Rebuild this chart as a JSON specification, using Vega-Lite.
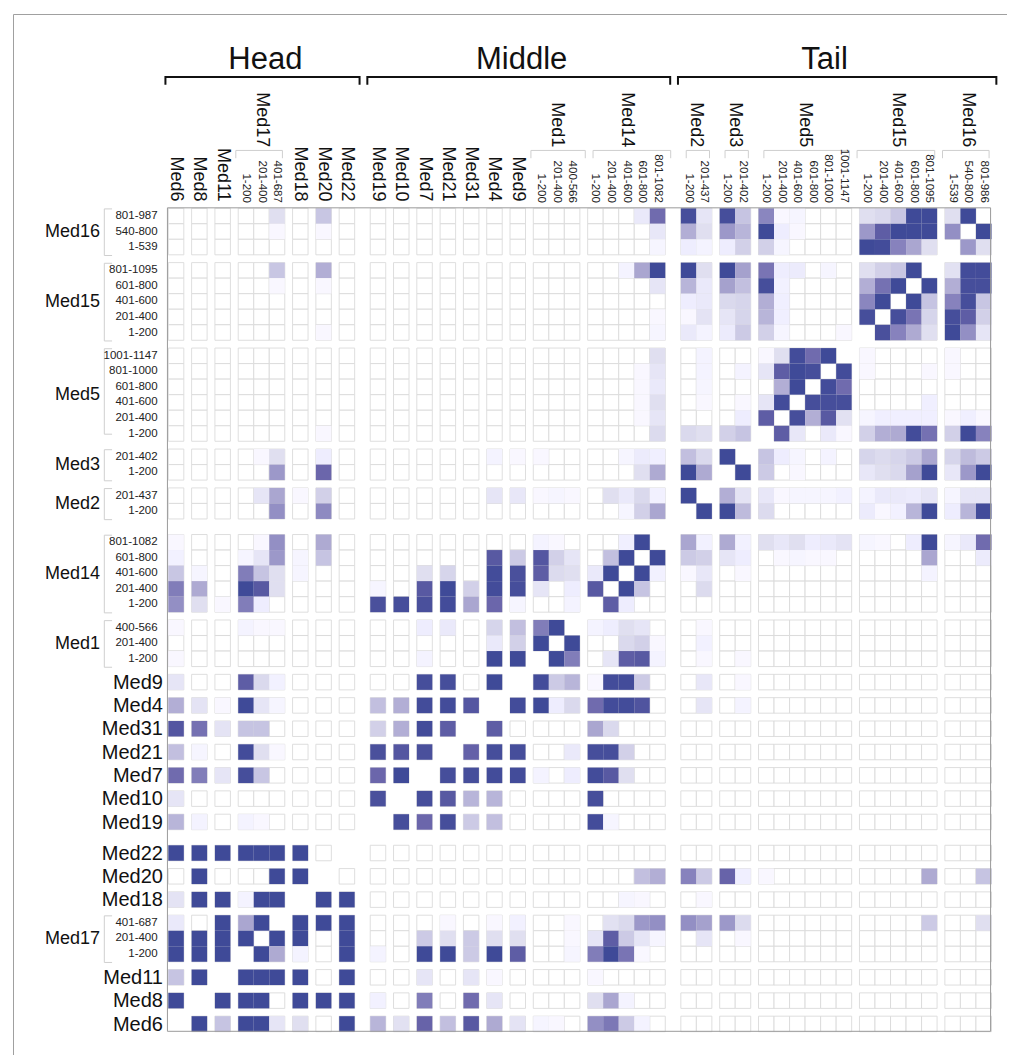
{"$schema":"https://vega.github.io/schema/vega-lite/v6.json","autosize":{"type":"none"},"padding":{"left":13,"top":14,"right":0,"bottom":0},"width":994,"height":1041,"background":"#ffffff","config":{"view":{"stroke":null},"font":"Liberation Sans"},
"datasets":{
"rowList":[{"k":1,"row":"Med16:801"},{"k":1,"row":"Med16:540"},{"k":1,"row":"Med16:1"},{"k":1,"row":"Med15:801"},{"k":1,"row":"Med15:601"},{"k":1,"row":"Med15:401"},{"k":1,"row":"Med15:201"},{"k":1,"row":"Med15:1"},{"k":1,"row":"Med5:1001"},{"k":1,"row":"Med5:801"},{"k":1,"row":"Med5:601"},{"k":1,"row":"Med5:401"},{"k":1,"row":"Med5:201"},{"k":1,"row":"Med5:1"},{"k":1,"row":"Med3:201"},{"k":1,"row":"Med3:1"},{"k":1,"row":"Med2:201"},{"k":1,"row":"Med2:1"},{"k":1,"row":"Med14:801"},{"k":1,"row":"Med14:601"},{"k":1,"row":"Med14:401"},{"k":1,"row":"Med14:201"},{"k":1,"row":"Med14:1"},{"k":1,"row":"Med1:400"},{"k":1,"row":"Med1:201"},{"k":1,"row":"Med1:1"},{"k":1,"row":"Med9"},{"k":1,"row":"Med4"},{"k":1,"row":"Med31"},{"k":1,"row":"Med21"},{"k":1,"row":"Med7"},{"k":1,"row":"Med10"},{"k":1,"row":"Med19"},{"k":1,"row":"Med22"},{"k":1,"row":"Med20"},{"k":1,"row":"Med18"},{"k":1,"row":"Med17:401"},{"k":1,"row":"Med17:201"},{"k":1,"row":"Med17:1"},{"k":1,"row":"Med11"},{"k":1,"row":"Med8"},{"k":1,"row":"Med6"}],
"colList":[{"k":1,"cols":["Med6","Med8","Med11","Med17:1","Med17:201","Med17:401","Med18","Med20","Med22","Med19","Med10","Med7","Med21","Med31","Med4","Med9","Med1:1","Med1:201","Med1:400","Med14:1","Med14:201","Med14:401","Med14:601","Med14:801","Med2:1","Med2:201","Med3:1","Med3:201","Med5:1","Med5:201","Med5:401","Med5:601","Med5:801","Med5:1001","Med15:1","Med15:201","Med15:401","Med15:601","Med15:801","Med16:1","Med16:540","Med16:801"]}],
"cells":[
{"row":"Med16:801","col":"Med17:401","v":15},{"row":"Med16:801","col":"Med20","v":27},{"row":"Med16:801","col":"Med14:601","v":10},{"row":"Med16:801","col":"Med14:801","v":75},{"row":"Med16:801","col":"Med2:1","v":97},{"row":"Med16:801","col":"Med2:201","v":12},{"row":"Med16:801","col":"Med3:1","v":97},{"row":"Med16:801","col":"Med3:201","v":28},{"row":"Med16:801","col":"Med5:1","v":60},{"row":"Med16:801","col":"Med5:201","v":3},{"row":"Med16:801","col":"Med5:401","v":4},{"row":"Med16:801","col":"Med15:1","v":15},{"row":"Med16:801","col":"Med15:201","v":18},{"row":"Med16:801","col":"Med15:401","v":27},{"row":"Med16:801","col":"Med15:601","v":100},{"row":"Med16:801","col":"Med15:801","v":100},{"row":"Med16:801","col":"Med16:1","v":15},{"row":"Med16:801","col":"Med16:540","v":100},
{"row":"Med16:540","col":"Med17:401","v":3},{"row":"Med16:540","col":"Med20","v":3},{"row":"Med16:540","col":"Med14:801","v":11},{"row":"Med16:540","col":"Med2:1","v":38},{"row":"Med16:540","col":"Med2:201","v":15},{"row":"Med16:540","col":"Med3:1","v":50},{"row":"Med16:540","col":"Med3:201","v":35},{"row":"Med16:540","col":"Med5:1","v":100},{"row":"Med16:540","col":"Med5:201","v":8},{"row":"Med16:540","col":"Med5:401","v":3},{"row":"Med16:540","col":"Med15:1","v":50},{"row":"Med16:540","col":"Med15:201","v":85},{"row":"Med16:540","col":"Med15:401","v":100},{"row":"Med16:540","col":"Med15:601","v":100},{"row":"Med16:540","col":"Med15:801","v":100},{"row":"Med16:540","col":"Med16:1","v":55},{"row":"Med16:540","col":"Med16:801","v":100},
{"row":"Med16:1","col":"Med14:801","v":4},{"row":"Med16:1","col":"Med2:1","v":8},{"row":"Med16:1","col":"Med2:201","v":5},{"row":"Med16:1","col":"Med3:1","v":8},{"row":"Med16:1","col":"Med3:201","v":22},{"row":"Med16:1","col":"Med5:1","v":22},{"row":"Med16:1","col":"Med5:201","v":4},{"row":"Med16:1","col":"Med15:1","v":100},{"row":"Med16:1","col":"Med15:201","v":98},{"row":"Med16:1","col":"Med15:401","v":62},{"row":"Med16:1","col":"Med15:601","v":42},{"row":"Med16:1","col":"Med15:801","v":15},{"row":"Med16:1","col":"Med16:540","v":50},{"row":"Med16:1","col":"Med16:801","v":15},
{"row":"Med15:801","col":"Med17:401","v":27},{"row":"Med15:801","col":"Med20","v":38},{"row":"Med15:801","col":"Med14:401","v":5},{"row":"Med15:801","col":"Med14:601","v":42},{"row":"Med15:801","col":"Med14:801","v":100},{"row":"Med15:801","col":"Med2:1","v":100},{"row":"Med15:801","col":"Med2:201","v":15},{"row":"Med15:801","col":"Med3:1","v":100},{"row":"Med15:801","col":"Med3:201","v":45},{"row":"Med15:801","col":"Med5:1","v":70},{"row":"Med15:801","col":"Med5:201","v":8},{"row":"Med15:801","col":"Med5:401","v":9},{"row":"Med15:801","col":"Med5:801","v":4},{"row":"Med15:801","col":"Med15:1","v":15},{"row":"Med15:801","col":"Med15:201","v":22},{"row":"Med15:801","col":"Med15:401","v":27},{"row":"Med15:801","col":"Med15:601","v":100},{"row":"Med15:801","col":"Med16:1","v":14},{"row":"Med15:801","col":"Med16:540","v":98},{"row":"Med15:801","col":"Med16:801","v":98},
{"row":"Med15:601","col":"Med17:401","v":3},{"row":"Med15:601","col":"Med20","v":3},{"row":"Med15:601","col":"Med14:801","v":12},{"row":"Med15:601","col":"Med2:1","v":35},{"row":"Med15:601","col":"Med2:201","v":10},{"row":"Med15:601","col":"Med3:1","v":45},{"row":"Med15:601","col":"Med3:201","v":30},{"row":"Med15:601","col":"Med5:1","v":97},{"row":"Med15:601","col":"Med5:201","v":6},{"row":"Med15:601","col":"Med15:1","v":38},{"row":"Med15:601","col":"Med15:201","v":72},{"row":"Med15:601","col":"Med15:401","v":100},{"row":"Med15:601","col":"Med15:801","v":100},{"row":"Med15:601","col":"Med16:1","v":38},{"row":"Med15:601","col":"Med16:540","v":97},{"row":"Med15:601","col":"Med16:801","v":97},
{"row":"Med15:401","col":"Med2:1","v":8},{"row":"Med15:401","col":"Med2:201","v":10},{"row":"Med15:401","col":"Med3:1","v":18},{"row":"Med15:401","col":"Med3:201","v":20},{"row":"Med15:401","col":"Med5:1","v":38},{"row":"Med15:401","col":"Med5:201","v":7},{"row":"Med15:401","col":"Med15:1","v":60},{"row":"Med15:401","col":"Med15:201","v":100},{"row":"Med15:401","col":"Med15:601","v":100},{"row":"Med15:401","col":"Med15:801","v":28},{"row":"Med15:401","col":"Med16:1","v":62},{"row":"Med15:401","col":"Med16:540","v":97},{"row":"Med15:401","col":"Med16:801","v":27},
{"row":"Med15:201","col":"Med14:801","v":3},{"row":"Med15:201","col":"Med2:1","v":3},{"row":"Med15:201","col":"Med2:201","v":13},{"row":"Med15:201","col":"Med3:1","v":12},{"row":"Med15:201","col":"Med3:201","v":20},{"row":"Med15:201","col":"Med5:1","v":35},{"row":"Med15:201","col":"Med5:201","v":7},{"row":"Med15:201","col":"Med15:1","v":97},{"row":"Med15:201","col":"Med15:401","v":97},{"row":"Med15:201","col":"Med15:601","v":70},{"row":"Med15:201","col":"Med15:801","v":20},{"row":"Med15:201","col":"Med16:1","v":97},{"row":"Med15:201","col":"Med16:540","v":85},{"row":"Med15:201","col":"Med16:801","v":22},
{"row":"Med15:1","col":"Med20","v":3},{"row":"Med15:1","col":"Med14:801","v":4},{"row":"Med15:1","col":"Med2:1","v":10},{"row":"Med15:1","col":"Med2:201","v":5},{"row":"Med15:1","col":"Med3:1","v":9},{"row":"Med15:1","col":"Med3:201","v":25},{"row":"Med15:1","col":"Med5:1","v":22},{"row":"Med15:1","col":"Med5:201","v":4},{"row":"Med15:1","col":"Med5:1001","v":3},{"row":"Med15:1","col":"Med15:201","v":95},{"row":"Med15:1","col":"Med15:401","v":62},{"row":"Med15:1","col":"Med15:601","v":40},{"row":"Med15:1","col":"Med15:801","v":15},{"row":"Med15:1","col":"Med16:1","v":100},{"row":"Med15:1","col":"Med16:540","v":55},{"row":"Med15:1","col":"Med16:801","v":12},
{"row":"Med5:1001","col":"Med14:801","v":15},{"row":"Med5:1001","col":"Med2:201","v":5},{"row":"Med5:1001","col":"Med5:1","v":3},{"row":"Med5:1001","col":"Med5:201","v":15},{"row":"Med5:1001","col":"Med5:401","v":98},{"row":"Med5:1001","col":"Med5:601","v":75},{"row":"Med5:1001","col":"Med5:801","v":100},{"row":"Med5:1001","col":"Med15:1","v":3},{"row":"Med5:1001","col":"Med16:1","v":3},
{"row":"Med5:801","col":"Med14:601","v":3},{"row":"Med5:801","col":"Med14:801","v":12},{"row":"Med5:801","col":"Med2:201","v":5},{"row":"Med5:801","col":"Med3:201","v":5},{"row":"Med5:801","col":"Med5:1","v":12},{"row":"Med5:801","col":"Med5:201","v":85},{"row":"Med5:801","col":"Med5:401","v":100},{"row":"Med5:801","col":"Med5:601","v":97},{"row":"Med5:801","col":"Med5:1001","v":98},{"row":"Med5:801","col":"Med15:1","v":3},{"row":"Med5:801","col":"Med15:801","v":3},{"row":"Med5:801","col":"Med16:1","v":3},
{"row":"Med5:601","col":"Med14:601","v":3},{"row":"Med5:601","col":"Med14:801","v":10},{"row":"Med5:601","col":"Med2:201","v":4},{"row":"Med5:601","col":"Med5:201","v":38},{"row":"Med5:601","col":"Med5:401","v":100},{"row":"Med5:601","col":"Med5:801","v":98},{"row":"Med5:601","col":"Med5:1001","v":75},
{"row":"Med5:401","col":"Med14:601","v":3},{"row":"Med5:401","col":"Med14:801","v":15},{"row":"Med5:401","col":"Med2:201","v":3},{"row":"Med5:401","col":"Med3:201","v":3},{"row":"Med5:401","col":"Med5:1","v":12},{"row":"Med5:401","col":"Med5:201","v":98},{"row":"Med5:401","col":"Med5:601","v":97},{"row":"Med5:401","col":"Med5:801","v":97},{"row":"Med5:401","col":"Med5:1001","v":97},{"row":"Med5:401","col":"Med15:801","v":7},
{"row":"Med5:201","col":"Med14:601","v":3},{"row":"Med5:201","col":"Med14:801","v":12},{"row":"Med5:201","col":"Med3:201","v":8},{"row":"Med5:201","col":"Med5:1","v":85},{"row":"Med5:201","col":"Med5:401","v":97},{"row":"Med5:201","col":"Med5:601","v":38},{"row":"Med5:201","col":"Med5:801","v":88},{"row":"Med5:201","col":"Med5:1001","v":14},{"row":"Med5:201","col":"Med15:1","v":4},{"row":"Med5:201","col":"Med15:201","v":7},{"row":"Med5:201","col":"Med15:401","v":7},{"row":"Med5:201","col":"Med15:601","v":7},{"row":"Med5:201","col":"Med15:801","v":7},{"row":"Med5:201","col":"Med16:1","v":3},{"row":"Med5:201","col":"Med16:540","v":7},{"row":"Med5:201","col":"Med16:801","v":3},
{"row":"Med5:1","col":"Med20","v":3},{"row":"Med5:1","col":"Med14:801","v":17},{"row":"Med5:1","col":"Med2:1","v":18},{"row":"Med5:1","col":"Med2:201","v":15},{"row":"Med5:1","col":"Med3:1","v":22},{"row":"Med5:1","col":"Med3:201","v":28},{"row":"Med5:1","col":"Med5:201","v":85},{"row":"Med5:1","col":"Med5:401","v":11},{"row":"Med5:1","col":"Med5:801","v":10},{"row":"Med5:1","col":"Med5:1001","v":3},{"row":"Med5:1","col":"Med15:1","v":22},{"row":"Med5:1","col":"Med15:201","v":38},{"row":"Med5:1","col":"Med15:401","v":40},{"row":"Med5:1","col":"Med15:601","v":98},{"row":"Med5:1","col":"Med15:801","v":72},{"row":"Med5:1","col":"Med16:1","v":22},{"row":"Med5:1","col":"Med16:540","v":100},{"row":"Med5:1","col":"Med16:801","v":62},
{"row":"Med3:201","col":"Med17:201","v":3},{"row":"Med3:201","col":"Med17:401","v":15},{"row":"Med3:201","col":"Med20","v":8},{"row":"Med3:201","col":"Med4","v":5},{"row":"Med3:201","col":"Med9","v":3},{"row":"Med3:201","col":"Med1:1","v":3},{"row":"Med3:201","col":"Med14:401","v":4},{"row":"Med3:201","col":"Med14:601","v":9},{"row":"Med3:201","col":"Med14:801","v":7},{"row":"Med3:201","col":"Med2:1","v":30},{"row":"Med3:201","col":"Med2:201","v":18},{"row":"Med3:201","col":"Med3:1","v":100},{"row":"Med3:201","col":"Med5:1","v":28},{"row":"Med3:201","col":"Med5:201","v":8},{"row":"Med3:201","col":"Med5:401","v":4},{"row":"Med3:201","col":"Med5:801","v":5},{"row":"Med3:201","col":"Med15:1","v":20},{"row":"Med3:201","col":"Med15:201","v":17},{"row":"Med3:201","col":"Med15:401","v":20},{"row":"Med3:201","col":"Med15:601","v":25},{"row":"Med3:201","col":"Med15:801","v":42},{"row":"Med3:201","col":"Med16:1","v":20},{"row":"Med3:201","col":"Med16:540","v":32},{"row":"Med3:201","col":"Med16:801","v":25},
{"row":"Med3:1","col":"Med17:401","v":50},{"row":"Med3:1","col":"Med20","v":78},{"row":"Med3:1","col":"Med14:601","v":15},{"row":"Med3:1","col":"Med14:801","v":40},{"row":"Med3:1","col":"Med2:1","v":100},{"row":"Med3:1","col":"Med2:201","v":40},{"row":"Med3:1","col":"Med3:201","v":100},{"row":"Med3:1","col":"Med5:1","v":25},{"row":"Med3:1","col":"Med5:401","v":3},{"row":"Med3:1","col":"Med15:1","v":11},{"row":"Med3:1","col":"Med15:201","v":15},{"row":"Med3:1","col":"Med15:401","v":18},{"row":"Med3:1","col":"Med15:601","v":45},{"row":"Med3:1","col":"Med15:801","v":100},{"row":"Med3:1","col":"Med16:1","v":11},{"row":"Med3:1","col":"Med16:540","v":50},{"row":"Med3:1","col":"Med16:801","v":100},
{"row":"Med2:201","col":"Med17:201","v":12},{"row":"Med2:201","col":"Med17:401","v":42},{"row":"Med2:201","col":"Med18","v":3},{"row":"Med2:201","col":"Med20","v":22},{"row":"Med2:201","col":"Med4","v":12},{"row":"Med2:201","col":"Med9","v":11},{"row":"Med2:201","col":"Med1:1","v":3},{"row":"Med2:201","col":"Med1:201","v":4},{"row":"Med2:201","col":"Med1:400","v":3},{"row":"Med2:201","col":"Med14:201","v":15},{"row":"Med2:201","col":"Med14:401","v":10},{"row":"Med2:201","col":"Med14:601","v":18},{"row":"Med2:201","col":"Med14:801","v":6},{"row":"Med2:201","col":"Med2:1","v":100},{"row":"Med2:201","col":"Med3:1","v":38},{"row":"Med2:201","col":"Med3:201","v":13},{"row":"Med2:201","col":"Med5:1","v":11},{"row":"Med2:201","col":"Med5:201","v":3},{"row":"Med2:201","col":"Med5:401","v":4},{"row":"Med2:201","col":"Med5:601","v":4},{"row":"Med2:201","col":"Med5:801","v":4},{"row":"Med2:201","col":"Med5:1001","v":6},{"row":"Med2:201","col":"Med15:1","v":5},{"row":"Med2:201","col":"Med15:201","v":10},{"row":"Med2:201","col":"Med15:401","v":10},{"row":"Med2:201","col":"Med15:601","v":9},{"row":"Med2:201","col":"Med15:801","v":12},{"row":"Med2:201","col":"Med16:1","v":4},{"row":"Med2:201","col":"Med16:540","v":12},{"row":"Med2:201","col":"Med16:801","v":12},
{"row":"Med2:1","col":"Med17:401","v":55},{"row":"Med2:1","col":"Med20","v":58},{"row":"Med2:1","col":"Med14:401","v":4},{"row":"Med2:1","col":"Med14:601","v":22},{"row":"Med2:1","col":"Med14:801","v":42},{"row":"Med2:1","col":"Med2:201","v":100},{"row":"Med2:1","col":"Med3:1","v":100},{"row":"Med2:1","col":"Med3:201","v":32},{"row":"Med2:1","col":"Med5:1","v":17},{"row":"Med2:1","col":"Med15:1","v":9},{"row":"Med2:1","col":"Med15:201","v":3},{"row":"Med2:1","col":"Med15:401","v":6},{"row":"Med2:1","col":"Med15:601","v":35},{"row":"Med2:1","col":"Med15:801","v":100},{"row":"Med2:1","col":"Med16:1","v":8},{"row":"Med2:1","col":"Med16:540","v":35},{"row":"Med2:1","col":"Med16:801","v":98},
{"row":"Med14:801","col":"Med6","v":3},{"row":"Med14:801","col":"Med17:201","v":3},{"row":"Med14:801","col":"Med17:401","v":55},{"row":"Med14:801","col":"Med20","v":40},{"row":"Med14:801","col":"Med1:1","v":5},{"row":"Med14:801","col":"Med1:201","v":3},{"row":"Med14:801","col":"Med14:401","v":7},{"row":"Med14:801","col":"Med14:601","v":100},{"row":"Med14:801","col":"Med2:1","v":42},{"row":"Med14:801","col":"Med2:201","v":6},{"row":"Med14:801","col":"Med3:1","v":40},{"row":"Med14:801","col":"Med3:201","v":6},{"row":"Med14:801","col":"Med5:1","v":15},{"row":"Med14:801","col":"Med5:201","v":11},{"row":"Med14:801","col":"Med5:401","v":15},{"row":"Med14:801","col":"Med5:601","v":8},{"row":"Med14:801","col":"Med5:801","v":10},{"row":"Med14:801","col":"Med5:1001","v":13},{"row":"Med14:801","col":"Med15:1","v":4},{"row":"Med14:801","col":"Med15:201","v":3},{"row":"Med14:801","col":"Med15:601","v":8},{"row":"Med14:801","col":"Med15:801","v":100},{"row":"Med14:801","col":"Med16:1","v":4},{"row":"Med14:801","col":"Med16:540","v":10},{"row":"Med14:801","col":"Med16:801","v":75},
{"row":"Med14:601","col":"Med6","v":6},{"row":"Med14:601","col":"Med17:1","v":4},{"row":"Med14:601","col":"Med17:201","v":12},{"row":"Med14:601","col":"Med17:401","v":50},{"row":"Med14:601","col":"Med18","v":4},{"row":"Med14:601","col":"Med20","v":28},{"row":"Med14:601","col":"Med4","v":88},{"row":"Med14:601","col":"Med9","v":25},{"row":"Med14:601","col":"Med1:1","v":90},{"row":"Med14:601","col":"Med1:201","v":22},{"row":"Med14:601","col":"Med1:400","v":12},{"row":"Med14:601","col":"Med14:201","v":30},{"row":"Med14:601","col":"Med14:401","v":100},{"row":"Med14:601","col":"Med14:801","v":100},{"row":"Med14:601","col":"Med2:1","v":25},{"row":"Med14:601","col":"Med2:201","v":22},{"row":"Med14:601","col":"Med3:1","v":12},{"row":"Med14:601","col":"Med3:201","v":8},{"row":"Med14:601","col":"Med5:201","v":3},{"row":"Med14:601","col":"Med5:401","v":4},{"row":"Med14:601","col":"Med5:601","v":3},{"row":"Med14:601","col":"Med5:801","v":3},{"row":"Med14:601","col":"Med15:801","v":42},{"row":"Med14:601","col":"Med16:801","v":9},
{"row":"Med14:401","col":"Med6","v":27},{"row":"Med14:401","col":"Med8","v":4},{"row":"Med14:401","col":"Med17:1","v":65},{"row":"Med14:401","col":"Med17:201","v":28},{"row":"Med14:401","col":"Med17:401","v":15},{"row":"Med14:401","col":"Med18","v":4},{"row":"Med14:401","col":"Med7","v":15},{"row":"Med14:401","col":"Med21","v":20},{"row":"Med14:401","col":"Med4","v":98},{"row":"Med14:401","col":"Med9","v":95},{"row":"Med14:401","col":"Med1:1","v":85},{"row":"Med14:401","col":"Med1:201","v":17},{"row":"Med14:401","col":"Med1:400","v":15},{"row":"Med14:401","col":"Med14:1","v":10},{"row":"Med14:401","col":"Med14:201","v":100},{"row":"Med14:401","col":"Med14:601","v":100},{"row":"Med14:401","col":"Med14:801","v":6},{"row":"Med14:401","col":"Med2:1","v":3},{"row":"Med14:401","col":"Med2:201","v":11},{"row":"Med14:401","col":"Med3:201","v":3},{"row":"Med14:401","col":"Med15:801","v":5},
{"row":"Med14:201","col":"Med6","v":65},{"row":"Med14:201","col":"Med8","v":40},{"row":"Med14:201","col":"Med17:1","v":100},{"row":"Med14:201","col":"Med17:201","v":88},{"row":"Med14:201","col":"Med17:401","v":15},{"row":"Med14:201","col":"Med19","v":4},{"row":"Med14:201","col":"Med7","v":88},{"row":"Med14:201","col":"Med21","v":100},{"row":"Med14:201","col":"Med31","v":22},{"row":"Med14:201","col":"Med4","v":98},{"row":"Med14:201","col":"Med9","v":97},{"row":"Med14:201","col":"Med1:1","v":12},{"row":"Med14:201","col":"Med1:400","v":8},{"row":"Med14:201","col":"Med14:1","v":88},{"row":"Med14:201","col":"Med14:401","v":100},{"row":"Med14:201","col":"Med14:601","v":28},{"row":"Med14:201","col":"Med2:201","v":17},
{"row":"Med14:1","col":"Med6","v":55},{"row":"Med14:1","col":"Med8","v":15},{"row":"Med14:1","col":"Med11","v":3},{"row":"Med14:1","col":"Med17:1","v":65},{"row":"Med14:1","col":"Med17:201","v":8},{"row":"Med14:1","col":"Med19","v":95},{"row":"Med14:1","col":"Med10","v":97},{"row":"Med14:1","col":"Med7","v":95},{"row":"Med14:1","col":"Med21","v":98},{"row":"Med14:1","col":"Med31","v":42},{"row":"Med14:1","col":"Med4","v":78},{"row":"Med14:1","col":"Med9","v":4},{"row":"Med14:1","col":"Med1:400","v":5},{"row":"Med14:1","col":"Med14:201","v":85},{"row":"Med14:1","col":"Med14:401","v":8},
{"row":"Med1:400","col":"Med6","v":3},{"row":"Med1:400","col":"Med17:1","v":5},{"row":"Med1:400","col":"Med17:201","v":3},{"row":"Med1:400","col":"Med17:401","v":3},{"row":"Med1:400","col":"Med7","v":8},{"row":"Med1:400","col":"Med21","v":10},{"row":"Med1:400","col":"Med4","v":20},{"row":"Med1:400","col":"Med9","v":30},{"row":"Med1:400","col":"Med1:1","v":65},{"row":"Med1:400","col":"Med1:201","v":100},{"row":"Med1:400","col":"Med14:1","v":5},{"row":"Med1:400","col":"Med14:201","v":8},{"row":"Med1:400","col":"Med14:401","v":15},{"row":"Med1:400","col":"Med14:601","v":12},{"row":"Med1:400","col":"Med2:201","v":3},
{"row":"Med1:201","col":"Med4","v":10},{"row":"Med1:201","col":"Med9","v":22},{"row":"Med1:201","col":"Med1:1","v":100},{"row":"Med1:201","col":"Med1:400","v":100},{"row":"Med1:201","col":"Med14:401","v":18},{"row":"Med1:201","col":"Med14:601","v":22},{"row":"Med1:201","col":"Med14:801","v":3},{"row":"Med1:201","col":"Med2:201","v":6},
{"row":"Med1:1","col":"Med6","v":3},{"row":"Med1:1","col":"Med7","v":5},{"row":"Med1:1","col":"Med4","v":100},{"row":"Med1:1","col":"Med9","v":100},{"row":"Med1:1","col":"Med1:201","v":100},{"row":"Med1:1","col":"Med1:400","v":65},{"row":"Med1:1","col":"Med14:201","v":12},{"row":"Med1:1","col":"Med14:401","v":85},{"row":"Med1:1","col":"Med14:601","v":88},{"row":"Med1:1","col":"Med14:801","v":5},{"row":"Med1:1","col":"Med2:201","v":3},{"row":"Med1:1","col":"Med3:201","v":3},
{"row":"Med9","col":"Med6","v":12},{"row":"Med9","col":"Med17:1","v":85},{"row":"Med9","col":"Med17:201","v":18},{"row":"Med9","col":"Med17:401","v":6},{"row":"Med9","col":"Med7","v":97},{"row":"Med9","col":"Med21","v":97},{"row":"Med9","col":"Med4","v":100},{"row":"Med9","col":"Med1:1","v":98},{"row":"Med9","col":"Med1:201","v":25},{"row":"Med9","col":"Med1:400","v":35},{"row":"Med9","col":"Med14:1","v":3},{"row":"Med9","col":"Med14:201","v":98},{"row":"Med9","col":"Med14:401","v":98},{"row":"Med9","col":"Med14:601","v":25},{"row":"Med9","col":"Med2:201","v":11},{"row":"Med9","col":"Med3:201","v":3},
{"row":"Med4","col":"Med6","v":38},{"row":"Med4","col":"Med8","v":13},{"row":"Med4","col":"Med11","v":3},{"row":"Med4","col":"Med17:1","v":100},{"row":"Med4","col":"Med17:201","v":12},{"row":"Med4","col":"Med17:401","v":4},{"row":"Med4","col":"Med19","v":30},{"row":"Med4","col":"Med10","v":38},{"row":"Med4","col":"Med7","v":98},{"row":"Med4","col":"Med21","v":98},{"row":"Med4","col":"Med31","v":90},{"row":"Med4","col":"Med9","v":98},{"row":"Med4","col":"Med1:1","v":100},{"row":"Med4","col":"Med1:201","v":8},{"row":"Med4","col":"Med1:400","v":18},{"row":"Med4","col":"Med14:1","v":75},{"row":"Med4","col":"Med14:201","v":98},{"row":"Med4","col":"Med14:401","v":98},{"row":"Med4","col":"Med14:601","v":92},{"row":"Med4","col":"Med2:201","v":12},{"row":"Med4","col":"Med3:201","v":5},
{"row":"Med31","col":"Med6","v":90},{"row":"Med31","col":"Med8","v":72},{"row":"Med31","col":"Med11","v":13},{"row":"Med31","col":"Med17:1","v":28},{"row":"Med31","col":"Med17:201","v":28},{"row":"Med31","col":"Med19","v":22},{"row":"Med31","col":"Med10","v":38},{"row":"Med31","col":"Med7","v":98},{"row":"Med31","col":"Med21","v":85},{"row":"Med31","col":"Med4","v":85},{"row":"Med31","col":"Med14:1","v":42},{"row":"Med31","col":"Med14:201","v":18},
{"row":"Med21","col":"Med6","v":30},{"row":"Med21","col":"Med8","v":4},{"row":"Med21","col":"Med17:1","v":98},{"row":"Med21","col":"Med17:201","v":15},{"row":"Med21","col":"Med17:401","v":3},{"row":"Med21","col":"Med19","v":95},{"row":"Med21","col":"Med10","v":90},{"row":"Med21","col":"Med7","v":95},{"row":"Med21","col":"Med31","v":82},{"row":"Med21","col":"Med4","v":97},{"row":"Med21","col":"Med9","v":97},{"row":"Med21","col":"Med1:400","v":10},{"row":"Med21","col":"Med14:1","v":97},{"row":"Med21","col":"Med14:201","v":97},{"row":"Med21","col":"Med14:401","v":22},
{"row":"Med7","col":"Med6","v":75},{"row":"Med7","col":"Med8","v":65},{"row":"Med7","col":"Med11","v":12},{"row":"Med7","col":"Med17:1","v":97},{"row":"Med7","col":"Med17:201","v":27},{"row":"Med7","col":"Med19","v":78},{"row":"Med7","col":"Med10","v":100},{"row":"Med7","col":"Med21","v":97},{"row":"Med7","col":"Med31","v":97},{"row":"Med7","col":"Med4","v":98},{"row":"Med7","col":"Med9","v":98},{"row":"Med7","col":"Med1:1","v":5},{"row":"Med7","col":"Med1:400","v":8},{"row":"Med7","col":"Med14:1","v":98},{"row":"Med7","col":"Med14:201","v":88},{"row":"Med7","col":"Med14:401","v":15},
{"row":"Med10","col":"Med6","v":12},{"row":"Med10","col":"Med19","v":95},{"row":"Med10","col":"Med7","v":97},{"row":"Med10","col":"Med21","v":88},{"row":"Med10","col":"Med31","v":35},{"row":"Med10","col":"Med4","v":35},{"row":"Med10","col":"Med14:1","v":97},
{"row":"Med19","col":"Med6","v":35},{"row":"Med19","col":"Med8","v":5},{"row":"Med19","col":"Med17:1","v":5},{"row":"Med19","col":"Med17:201","v":3},{"row":"Med19","col":"Med10","v":97},{"row":"Med19","col":"Med7","v":78},{"row":"Med19","col":"Med21","v":97},{"row":"Med19","col":"Med31","v":25},{"row":"Med19","col":"Med4","v":30},{"row":"Med19","col":"Med14:1","v":98},{"row":"Med19","col":"Med14:201","v":4},
{"row":"Med22","col":"Med6","v":100},{"row":"Med22","col":"Med8","v":100},{"row":"Med22","col":"Med11","v":100},{"row":"Med22","col":"Med17:1","v":100},{"row":"Med22","col":"Med17:201","v":100},{"row":"Med22","col":"Med17:401","v":100},{"row":"Med22","col":"Med18","v":100},
{"row":"Med20","col":"Med8","v":100},{"row":"Med20","col":"Med17:401","v":100},{"row":"Med20","col":"Med18","v":100},{"row":"Med20","col":"Med14:601","v":30},{"row":"Med20","col":"Med14:801","v":38},{"row":"Med20","col":"Med2:1","v":62},{"row":"Med20","col":"Med2:201","v":25},{"row":"Med20","col":"Med3:1","v":80},{"row":"Med20","col":"Med3:201","v":7},{"row":"Med20","col":"Med5:1","v":3},{"row":"Med20","col":"Med15:801","v":40},{"row":"Med20","col":"Med16:801","v":28},
{"row":"Med18","col":"Med6","v":13},{"row":"Med18","col":"Med8","v":100},{"row":"Med18","col":"Med11","v":100},{"row":"Med18","col":"Med17:1","v":5},{"row":"Med18","col":"Med17:201","v":100},{"row":"Med18","col":"Med17:401","v":100},{"row":"Med18","col":"Med20","v":100},{"row":"Med18","col":"Med22","v":100},{"row":"Med18","col":"Med14:401","v":4},{"row":"Med18","col":"Med14:601","v":3},{"row":"Med18","col":"Med2:201","v":3},
{"row":"Med17:401","col":"Med6","v":10},{"row":"Med17:401","col":"Med11","v":100},{"row":"Med17:401","col":"Med17:1","v":42},{"row":"Med17:401","col":"Med17:201","v":100},{"row":"Med17:401","col":"Med18","v":100},{"row":"Med17:401","col":"Med20","v":100},{"row":"Med17:401","col":"Med22","v":100},{"row":"Med17:401","col":"Med21","v":3},{"row":"Med17:401","col":"Med4","v":3},{"row":"Med17:401","col":"Med9","v":6},{"row":"Med17:401","col":"Med1:400","v":3},{"row":"Med17:401","col":"Med14:201","v":14},{"row":"Med17:401","col":"Med14:401","v":18},{"row":"Med17:401","col":"Med14:601","v":50},{"row":"Med17:401","col":"Med14:801","v":55},{"row":"Med17:401","col":"Med2:1","v":55},{"row":"Med17:401","col":"Med2:201","v":45},{"row":"Med17:401","col":"Med3:1","v":50},{"row":"Med17:401","col":"Med3:201","v":17},{"row":"Med17:401","col":"Med15:801","v":25},{"row":"Med17:401","col":"Med16:801","v":15},
{"row":"Med17:201","col":"Med6","v":100},{"row":"Med17:201","col":"Med8","v":100},{"row":"Med17:201","col":"Med11","v":100},{"row":"Med17:201","col":"Med17:1","v":100},{"row":"Med17:201","col":"Med17:401","v":100},{"row":"Med17:201","col":"Med18","v":100},{"row":"Med17:201","col":"Med22","v":100},{"row":"Med17:201","col":"Med7","v":25},{"row":"Med17:201","col":"Med21","v":15},{"row":"Med17:201","col":"Med31","v":25},{"row":"Med17:201","col":"Med4","v":15},{"row":"Med17:201","col":"Med9","v":15},{"row":"Med17:201","col":"Med1:400","v":3},{"row":"Med17:201","col":"Med14:1","v":12},{"row":"Med17:201","col":"Med14:201","v":85},{"row":"Med17:201","col":"Med14:401","v":25},{"row":"Med17:201","col":"Med14:601","v":12},{"row":"Med17:201","col":"Med14:801","v":4},{"row":"Med17:201","col":"Med2:201","v":12},{"row":"Med17:201","col":"Med3:201","v":3},
{"row":"Med17:1","col":"Med6","v":100},{"row":"Med17:1","col":"Med8","v":100},{"row":"Med17:1","col":"Med11","v":100},{"row":"Med17:1","col":"Med17:201","v":100},{"row":"Med17:1","col":"Med17:401","v":40},{"row":"Med17:1","col":"Med18","v":5},{"row":"Med17:1","col":"Med22","v":100},{"row":"Med17:1","col":"Med19","v":5},{"row":"Med17:1","col":"Med7","v":100},{"row":"Med17:1","col":"Med21","v":100},{"row":"Med17:1","col":"Med31","v":25},{"row":"Med17:1","col":"Med4","v":100},{"row":"Med17:1","col":"Med9","v":85},{"row":"Med17:1","col":"Med1:400","v":4},{"row":"Med17:1","col":"Med14:1","v":65},{"row":"Med17:1","col":"Med14:201","v":100},{"row":"Med17:1","col":"Med14:401","v":70},{"row":"Med17:1","col":"Med14:601","v":3},
{"row":"Med11","col":"Med6","v":28},{"row":"Med11","col":"Med8","v":100},{"row":"Med11","col":"Med17:1","v":100},{"row":"Med11","col":"Med17:201","v":100},{"row":"Med11","col":"Med17:401","v":100},{"row":"Med11","col":"Med18","v":100},{"row":"Med11","col":"Med22","v":100},{"row":"Med11","col":"Med7","v":12},{"row":"Med11","col":"Med31","v":12},{"row":"Med11","col":"Med4","v":3},{"row":"Med11","col":"Med14:1","v":3},
{"row":"Med8","col":"Med6","v":100},{"row":"Med8","col":"Med11","v":100},{"row":"Med8","col":"Med17:1","v":100},{"row":"Med8","col":"Med17:201","v":100},{"row":"Med8","col":"Med18","v":100},{"row":"Med8","col":"Med20","v":100},{"row":"Med8","col":"Med22","v":100},{"row":"Med8","col":"Med19","v":6},{"row":"Med8","col":"Med7","v":65},{"row":"Med8","col":"Med31","v":75},{"row":"Med8","col":"Med4","v":12},{"row":"Med8","col":"Med14:1","v":15},{"row":"Med8","col":"Med14:201","v":42},{"row":"Med8","col":"Med14:401","v":5},
{"row":"Med6","col":"Med8","v":100},{"row":"Med6","col":"Med11","v":28},{"row":"Med6","col":"Med17:1","v":100},{"row":"Med6","col":"Med17:201","v":100},{"row":"Med6","col":"Med17:401","v":12},{"row":"Med6","col":"Med18","v":15},{"row":"Med6","col":"Med22","v":100},{"row":"Med6","col":"Med19","v":35},{"row":"Med6","col":"Med10","v":14},{"row":"Med6","col":"Med7","v":80},{"row":"Med6","col":"Med21","v":30},{"row":"Med6","col":"Med31","v":88},{"row":"Med6","col":"Med4","v":40},{"row":"Med6","col":"Med9","v":13},{"row":"Med6","col":"Med1:1","v":4},{"row":"Med6","col":"Med1:201","v":3},{"row":"Med6","col":"Med14:1","v":55},{"row":"Med6","col":"Med14:201","v":68},{"row":"Med6","col":"Med14:401","v":25},{"row":"Med6","col":"Med14:601","v":5}
]},
"encoding":{
"x":{"field":"col","type":"nominal","sort":null,"title":null,"axis":{"orient":"top","labels":false,"ticks":false,"grid":false,"title":null,"domainColor":"#a0a0a0","domainWidth":1},"scale":{"type":"band","paddingInner":0,"paddingOuter":0,"domain":["L0","L1","L2","L3","L4","L5","L6","L7","L8","L9","L10","L11","L12","L13","L14","L15","L16","L17","L18","L19","Med6","Med6+","x1","Med8","Med8+","x2","Med11","Med11+","x3","Med17:1","Med17:1+","Med17:201","Med17:201+","Med17:401","Med17:401+","x4","Med18","Med18+","x5","Med20","Med20+","x6","Med22","Med22+","x7","x8","Med19","Med19+","x9","Med10","Med10+","x10","Med7","Med7+","x11","Med21","Med21+","x12","Med31","Med31+","x13","Med4","Med4+","x14","Med9","Med9+","x15","Med1:1","Med1:1+","Med1:201","Med1:201+","Med1:400","Med1:400+","x16","Med14:1","Med14:1+","Med14:201","Med14:201+","Med14:401","Med14:401+","Med14:601","Med14:601+","Med14:801","Med14:801+","x17","x18","Med2:1","Med2:1+","Med2:201","Med2:201+","x19","Med3:1","Med3:1+","Med3:201","Med3:201+","x20","Med5:1","Med5:1+","Med5:201","Med5:201+","Med5:401","Med5:401+","Med5:601","Med5:601+","Med5:801","Med5:801+","Med5:1001","Med5:1001+","x21","Med15:1","Med15:1+","Med15:201","Med15:201+","Med15:401","Med15:401+","Med15:601","Med15:601+","Med15:801","Med15:801+","x22","Med16:1","Med16:1+","Med16:540","Med16:540+","Med16:801","Med16:801+","R0","R1"]}},
"y":{"field":"row","type":"nominal","sort":null,"title":null,"axis":{"orient":"left","labels":false,"ticks":false,"grid":false,"title":null,"domainColor":"#a0a0a0","domainWidth":1},"scale":{"type":"band","paddingInner":0,"paddingOuter":0,"domain":["T0","T1","T2","T3","T4","T5","T6","T7","T8","T9","T10","T11","T12","T13","T14","T15","T16","T17","T18","T19","T20","T21","T22","T23","T24","Med16:801","Med16:801+","Med16:540","Med16:540+","Med16:1","Med16:1+","y1","Med15:801","Med15:801+","Med15:601","Med15:601+","Med15:401","Med15:401+","Med15:201","Med15:201+","Med15:1","Med15:1+","y2","Med5:1001","Med5:1001+","Med5:801","Med5:801+","Med5:601","Med5:601+","Med5:401","Med5:401+","Med5:201","Med5:201+","Med5:1","Med5:1+","y3","Med3:201","Med3:201+","Med3:1","Med3:1+","y4","Med2:201","Med2:201+","Med2:1","Med2:1+","y5","y6","Med14:801","Med14:801+","Med14:601","Med14:601+","Med14:401","Med14:401+","Med14:201","Med14:201+","Med14:1","Med14:1+","y7","Med1:400","Med1:400+","Med1:201","Med1:201+","Med1:1","Med1:1+","y8","Med9","Med9+","y9","Med4","Med4+","y10","Med31","Med31+","y11","Med21","Med21+","y12","Med7","Med7+","y13","Med10","Med10+","y14","Med19","Med19+","y15","y16","Med22","Med22+","y17","Med20","Med20+","y18","Med18","Med18+","y19","Med17:401","Med17:401+","Med17:201","Med17:201+","Med17:1","Med17:1+","y20","Med11","Med11+","y21","Med8","Med8+","y22","Med6","Med6+","B0","B1","B2"]}}
},
"layer":[
{"data":{"name":"rowList"},"transform":[{"lookup":"k","from":{"data":{"name":"colList"},"key":"k","fields":["cols"]}},{"flatten":["cols"],"as":["col"]},{"filter":"datum.row !== datum.col"}],"mark":{"type":"rect","width":15.5,"height":15.5,"xOffset":3.88,"yOffset":3.89,"fill":"#ffffff","stroke":"#dadada","strokeWidth":0.9}},
{"data":{"name":"cells"},"mark":{"type":"rect","width":15.5,"height":15.5,"xOffset":3.88,"yOffset":3.89},"encoding":{"color":{"field":"v","type":"quantitative","legend":null,"scale":{"domain":[0,15,27,40,60,78,100],"range":["#ffffff","#e0dff0","#c8c6e3","#aeaad2","#8a86bf","#6b66ab","#3f4a98"]}}}},
{"data":{"values":[{"id":"f","i":1,"col":"L19","row":"T24"},{"id":"f","i":2,"col":"Med16:801+","row":"T24"},{"id":"f","i":3,"col":"Med16:801+","row":"Med6+"},{"id":"f","i":4,"col":"L19","row":"Med6+"},{"id":"f","i":5,"col":"L19","row":"T24"}]},"mark":{"type":"line","color":"#9a9a9a","strokeWidth":1,"xOffset":3,"yOffset":3.5},"encoding":{"detail":{"field":"id"},"order":{"field":"i"}}},
{"data":{"values":[{"id":"Head","i":1,"col":"L19","row":"T9"},{"id":"Head","i":2,"col":"L19","row":"T8"},{"id":"Head","i":3,"col":"x7","row":"T8"},{"id":"Head","i":4,"col":"x7","row":"T9"},{"id":"Middle","i":1,"col":"x8","row":"T9"},{"id":"Middle","i":2,"col":"x8","row":"T8"},{"id":"Middle","i":3,"col":"x17","row":"T8"},{"id":"Middle","i":4,"col":"x17","row":"T9"},{"id":"Tail","i":1,"col":"x18","row":"T9"},{"id":"Tail","i":2,"col":"x18","row":"T8"},{"id":"Tail","i":3,"col":"R0","row":"T8"},{"id":"Tail","i":4,"col":"R0","row":"T9"}]},"mark":{"type":"line","color":"#111111","strokeWidth":2,"xOffset":1,"yOffset":-3},"encoding":{"detail":{"field":"id"},"order":{"field":"i"}}},
{"data":{"values":[{"id":"Med17","i":1,"col":"x3","row":"T18"},{"id":"Med17","i":2,"col":"x3","row":"T17"},{"id":"Med17","i":3,"col":"Med17:401+","row":"T17"},{"id":"Med17","i":4,"col":"Med17:401+","row":"T18"},{"id":"Med1","i":1,"col":"x15","row":"T18"},{"id":"Med1","i":2,"col":"x15","row":"T17"},{"id":"Med1","i":3,"col":"x16","row":"T17"},{"id":"Med1","i":4,"col":"x16","row":"T18"},{"id":"Med14","i":1,"col":"Med14:1","row":"T18"},{"id":"Med14","i":2,"col":"Med14:1","row":"T17"},{"id":"Med14","i":3,"col":"x17","row":"T17"},{"id":"Med14","i":4,"col":"x17","row":"T18"},{"id":"Med2","i":1,"col":"Med2:1","row":"T18"},{"id":"Med2","i":2,"col":"Med2:1","row":"T17"},{"id":"Med2","i":3,"col":"Med2:201+","row":"T17"},{"id":"Med2","i":4,"col":"Med2:201+","row":"T18"},{"id":"Med3","i":1,"col":"Med3:1","row":"T18"},{"id":"Med3","i":2,"col":"Med3:1","row":"T17"},{"id":"Med3","i":3,"col":"Med3:201+","row":"T17"},{"id":"Med3","i":4,"col":"Med3:201+","row":"T18"},{"id":"Med5","i":1,"col":"Med5:1","row":"T18"},{"id":"Med5","i":2,"col":"Med5:1","row":"T17"},{"id":"Med5","i":3,"col":"Med5:1001+","row":"T17"},{"id":"Med5","i":4,"col":"Med5:1001+","row":"T18"},{"id":"Med15","i":1,"col":"x21","row":"T18"},{"id":"Med15","i":2,"col":"x21","row":"T17"},{"id":"Med15","i":3,"col":"Med15:801+","row":"T17"},{"id":"Med15","i":4,"col":"Med15:801+","row":"T18"},{"id":"Med16","i":1,"col":"x22","row":"T18"},{"id":"Med16","i":2,"col":"x22","row":"T17"},{"id":"Med16","i":3,"col":"Med16:801+","row":"T17"},{"id":"Med16","i":4,"col":"Med16:801+","row":"T18"}]},"mark":{"type":"line","color":"#cfcfcf","strokeWidth":1,"xOffset":1.5,"yOffset":0.5},"encoding":{"detail":{"field":"id"},"order":{"field":"i"}}},
{"data":{"values":[{"id":"Med16","i":1,"col":"L12","row":"Med16:801"},{"id":"Med16","i":2,"col":"L11","row":"Med16:801"},{"id":"Med16","i":3,"col":"L11","row":"y1"},{"id":"Med16","i":4,"col":"L12","row":"y1"},{"id":"Med15","i":1,"col":"L12","row":"Med15:801"},{"id":"Med15","i":2,"col":"L11","row":"Med15:801"},{"id":"Med15","i":3,"col":"L11","row":"y2"},{"id":"Med15","i":4,"col":"L12","row":"y2"},{"id":"Med5","i":1,"col":"L12","row":"Med5:1001"},{"id":"Med5","i":2,"col":"L11","row":"Med5:1001"},{"id":"Med5","i":3,"col":"L11","row":"Med5:1+"},{"id":"Med5","i":4,"col":"L12","row":"Med5:1+"},{"id":"Med3","i":1,"col":"L12","row":"Med3:201"},{"id":"Med3","i":2,"col":"L11","row":"Med3:201"},{"id":"Med3","i":3,"col":"L11","row":"y4"},{"id":"Med3","i":4,"col":"L12","row":"y4"},{"id":"Med2","i":1,"col":"L12","row":"Med2:201"},{"id":"Med2","i":2,"col":"L11","row":"Med2:201"},{"id":"Med2","i":3,"col":"L11","row":"y5"},{"id":"Med2","i":4,"col":"L12","row":"y5"},{"id":"Med14","i":1,"col":"L12","row":"Med14:801"},{"id":"Med14","i":2,"col":"L11","row":"Med14:801"},{"id":"Med14","i":3,"col":"L11","row":"y7"},{"id":"Med14","i":4,"col":"L12","row":"y7"},{"id":"Med1","i":1,"col":"L12","row":"Med1:400"},{"id":"Med1","i":2,"col":"L11","row":"Med1:400"},{"id":"Med1","i":3,"col":"L11","row":"y8"},{"id":"Med1","i":4,"col":"L12","row":"y8"},{"id":"Med17","i":1,"col":"L12","row":"Med17:401"},{"id":"Med17","i":2,"col":"L11","row":"Med17:401"},{"id":"Med17","i":3,"col":"L11","row":"y20"},{"id":"Med17","i":4,"col":"L12","row":"y20"}]},"mark":{"type":"line","color":"#cfcfcf","strokeWidth":1,"xOffset":2,"yOffset":-3.2},"encoding":{"detail":{"field":"id"},"order":{"field":"i"}}},
{"data":{"values":[{"col":"Med17:201+","row":"T7","label":"Head"},{"col":"Med9+","row":"T7","label":"Middle"},{"col":"Med5:801","row":"T7","label":"Tail"}]},"mark":{"type":"text","fontSize":31,"align":"center","baseline":"alphabetic","dy":-3,"color":"#111111"},"encoding":{"text":{"field":"label"}}},
{"data":{"values":[{"col":"Med6","row":"T24","label":"Med6"},{"col":"Med8","row":"T24","label":"Med8"},{"col":"Med11","row":"T24","label":"Med11"},{"col":"Med18","row":"T24","label":"Med18"},{"col":"Med20","row":"T24","label":"Med20"},{"col":"Med22","row":"T24","label":"Med22"},{"col":"Med19","row":"T24","label":"Med19"},{"col":"Med10","row":"T24","label":"Med10"},{"col":"Med7","row":"T24","label":"Med7"},{"col":"Med21","row":"T24","label":"Med21"},{"col":"Med31","row":"T24","label":"Med31"},{"col":"Med4","row":"T24","label":"Med4"},{"col":"Med9","row":"T24","label":"Med9"},{"col":"Med17:201","row":"T17","label":"Med17"},{"col":"Med1:201","row":"T17","label":"Med1"},{"col":"Med14:401","row":"T17","label":"Med14"},{"col":"Med2:1+","row":"T17","label":"Med2"},{"col":"Med3:1+","row":"T17","label":"Med3"},{"col":"Med5:401+","row":"T17","label":"Med5"},{"col":"Med15:401","row":"T17","label":"Med15"},{"col":"Med16:540","row":"T17","label":"Med16"}]},"mark":{"type":"text","fontSize":18,"angle":90,"align":"right","baseline":"middle","dx":-2.7,"dy":-3.9,"color":"#111111"},"encoding":{"text":{"field":"label"}}},
{"data":{"values":[{"col":"Med17:1","row":"T24","label":"1-200"},{"col":"Med17:201","row":"T24","label":"201-400"},{"col":"Med17:401","row":"T24","label":"401-687"},{"col":"Med1:1","row":"T24","label":"1-200"},{"col":"Med1:201","row":"T24","label":"201-400"},{"col":"Med1:400","row":"T24","label":"400-566"},{"col":"Med14:1","row":"T24","label":"1-200"},{"col":"Med14:201","row":"T24","label":"201-400"},{"col":"Med14:401","row":"T24","label":"401-600"},{"col":"Med14:601","row":"T24","label":"601-800"},{"col":"Med14:801","row":"T24","label":"801-1082"},{"col":"Med2:1","row":"T24","label":"1-200"},{"col":"Med2:201","row":"T24","label":"201-437"},{"col":"Med3:1","row":"T24","label":"1-200"},{"col":"Med3:201","row":"T24","label":"201-402"},{"col":"Med5:1","row":"T24","label":"1-200"},{"col":"Med5:201","row":"T24","label":"201-400"},{"col":"Med5:401","row":"T24","label":"401-600"},{"col":"Med5:601","row":"T24","label":"601-800"},{"col":"Med5:801","row":"T24","label":"801-1000"},{"col":"Med5:1001","row":"T24","label":"1001-1147"},{"col":"Med15:1","row":"T24","label":"1-200"},{"col":"Med15:201","row":"T24","label":"201-400"},{"col":"Med15:401","row":"T24","label":"401-600"},{"col":"Med15:601","row":"T24","label":"601-800"},{"col":"Med15:801","row":"T24","label":"801-1095"},{"col":"Med16:1","row":"T24","label":"1-539"},{"col":"Med16:540","row":"T24","label":"540-800"},{"col":"Med16:801","row":"T24","label":"801-986"}]},"mark":{"type":"text","fontSize":11.5,"angle":90,"align":"right","baseline":"middle","dx":-1.5,"dy":-3.9,"color":"#222222"},"encoding":{"text":{"field":"label"}}},
{"data":{"values":[{"col":"L18","row":"Med16:801","label":"801-987"},{"col":"L18","row":"Med16:540","label":"540-800"},{"col":"L18","row":"Med16:1","label":"1-539"},{"col":"L18","row":"Med15:801","label":"801-1095"},{"col":"L18","row":"Med15:601","label":"601-800"},{"col":"L18","row":"Med15:401","label":"401-600"},{"col":"L18","row":"Med15:201","label":"201-400"},{"col":"L18","row":"Med15:1","label":"1-200"},{"col":"L18","row":"Med5:1001","label":"1001-1147"},{"col":"L18","row":"Med5:801","label":"801-1000"},{"col":"L18","row":"Med5:601","label":"601-800"},{"col":"L18","row":"Med5:401","label":"401-600"},{"col":"L18","row":"Med5:201","label":"201-400"},{"col":"L18","row":"Med5:1","label":"1-200"},{"col":"L18","row":"Med3:201","label":"201-402"},{"col":"L18","row":"Med3:1","label":"1-200"},{"col":"L18","row":"Med2:201","label":"201-437"},{"col":"L18","row":"Med2:1","label":"1-200"},{"col":"L18","row":"Med14:801","label":"801-1082"},{"col":"L18","row":"Med14:601","label":"601-800"},{"col":"L18","row":"Med14:401","label":"401-600"},{"col":"L18","row":"Med14:201","label":"201-400"},{"col":"L18","row":"Med14:1","label":"1-200"},{"col":"L18","row":"Med1:400","label":"400-566"},{"col":"L18","row":"Med1:201","label":"201-400"},{"col":"L18","row":"Med1:1","label":"1-200"},{"col":"L18","row":"Med17:401","label":"401-687"},{"col":"L18","row":"Med17:201","label":"201-400"},{"col":"L18","row":"Med17:1","label":"1-200"}]},"mark":{"type":"text","fontSize":11.5,"align":"right","baseline":"middle","dx":1,"dy":3.9,"color":"#222222"},"encoding":{"text":{"field":"label"}}},
{"data":{"values":[{"col":"L11","row":"Med16:540","label":"Med16"},{"col":"L11","row":"Med15:401","label":"Med15"},{"col":"L11","row":"Med5:601+","label":"Med5"},{"col":"L11","row":"Med3:201+","label":"Med3"},{"col":"L11","row":"Med2:201+","label":"Med2"},{"col":"L11","row":"Med14:401","label":"Med14"},{"col":"L11","row":"Med1:201","label":"Med1"},{"col":"L11","row":"Med17:201","label":"Med17"}]},"mark":{"type":"text","fontSize":18,"align":"right","baseline":"middle","dx":-2.2,"dy":4.5,"color":"#111111"},"encoding":{"text":{"field":"label"}}},
{"data":{"values":[{"col":"L19","row":"Med9","label":"Med9"},{"col":"L19","row":"Med4","label":"Med4"},{"col":"L19","row":"Med31","label":"Med31"},{"col":"L19","row":"Med21","label":"Med21"},{"col":"L19","row":"Med7","label":"Med7"},{"col":"L19","row":"Med10","label":"Med10"},{"col":"L19","row":"Med19","label":"Med19"},{"col":"L19","row":"Med22","label":"Med22"},{"col":"L19","row":"Med20","label":"Med20"},{"col":"L19","row":"Med18","label":"Med18"},{"col":"L19","row":"Med11","label":"Med11"},{"col":"L19","row":"Med8","label":"Med8"},{"col":"L19","row":"Med6","label":"Med6"}]},"mark":{"type":"text","fontSize":20,"align":"right","baseline":"middle","dx":-1.5,"dy":4.5,"color":"#111111"},"encoding":{"text":{"field":"label"}}}
]}
